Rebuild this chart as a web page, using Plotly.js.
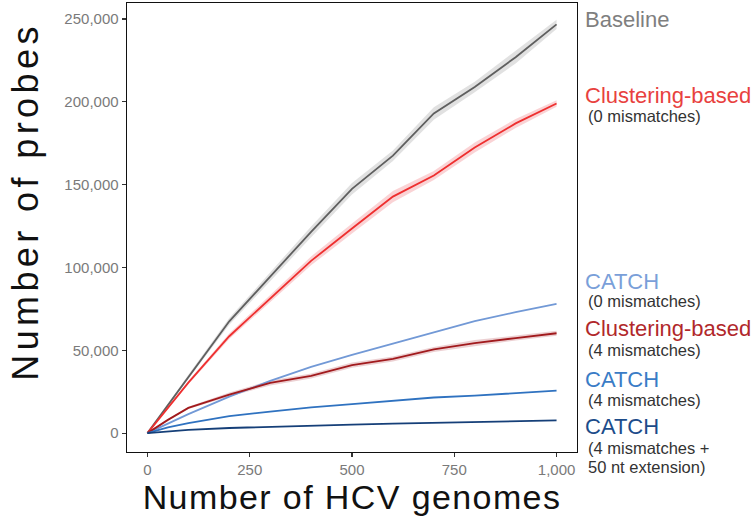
<!DOCTYPE html>
<html>
<head>
<meta charset="utf-8">
<script src="https://cdn.plot.ly/plotly-3.0.1.min.js"></script>
<style>
html,body{margin:0;padding:0;background:#fff;}
#chart{width:753px;height:518px;}
#chart .ytitle{letter-spacing:4.4px;}
#chart .xtitle{letter-spacing:1.4px;}
</style>
</head>
<body>
<div id="chart"></div>
<script>
// Number of HCV genomes
const genomes = [0, 50, 100, 200, 300, 400, 500, 600, 700, 800, 900, 1000];

// Number of probes (mean) per approach
const baseline      = [0, 17000, 34000, 67500, 94500, 121500, 147500, 167500, 193000, 209000, 227000, 246800];
const cluster0      = [0, 15500, 30500, 58500, 81000, 104000, 123500, 142800, 155500, 172400, 187000, 199000];
const catch0        = [0, 6000, 11500, 22000, 31500, 40000, 47300, 54000, 61000, 67600, 73000, 78000];
const cluster4      = [0, 8000, 15200, 23300, 30300, 34500, 41000, 44800, 50500, 54400, 57400, 60300];
const catch4        = [0, 3500, 6000, 10200, 13000, 15500, 17500, 19600, 21500, 22600, 24200, 25700];
const catch4ext     = [0, 1200, 2000, 3100, 3900, 4600, 5100, 5700, 6200, 6700, 7300, 7700];

// Spread of the shaded band around the mean
const baselineSpread = [0, 700, 1200, 2000, 2800, 3200, 3500, 3200, 3800, 3200, 3800, 2800];
const cluster0Spread = [0, 600, 1000, 1600, 2200, 2700, 3000, 3400, 2700, 3000, 2700, 2000];
const cluster4Spread = [0, 400, 700, 1200, 1500, 1500, 1600, 1500, 1500, 1800, 1500, 1500];

const series = [
  {y: baseline,  spread: baselineSpread, color: '#5f5f5f', band: 'rgba(200,200,200,0.55)'},
  {y: cluster0,  spread: cluster0Spread, color: '#ee2f2f', band: 'rgba(240,130,135,0.35)'},
  {y: catch0,    spread: null,           color: '#7299d6', band: null},
  {y: cluster4,  spread: cluster4Spread, color: '#a11a1d', band: 'rgba(200,120,125,0.35)'},
  {y: catch4,    spread: null,           color: '#2f72c0', band: null},
  {y: catch4ext, spread: null,           color: '#153f78', band: null}
];

const traces = [];
series.forEach(s => {
  if (s.spread) {
    traces.push({x: genomes, y: s.y.map((v,i)=>v - s.spread[i]), mode:'lines',
      line:{width:0, color:s.band}, hoverinfo:'skip', showlegend:false});
    traces.push({x: genomes, y: s.y.map((v,i)=>v + s.spread[i]), mode:'lines',
      line:{width:0, color:s.band}, fill:'tonexty', fillcolor:s.band, hoverinfo:'skip', showlegend:false});
  }
});
series.forEach(s => {
  traces.push({x: genomes, y: s.y, mode:'lines', line:{color:s.color, width:1.8}, showlegend:false});
});

// Right-hand labels
const labelText  = ['Baseline', 'Clustering-based', '(0 mismatches)', 'CATCH', '(0 mismatches)',
                    'Clustering-based', '(4 mismatches)', 'CATCH', '(4 mismatches)', 'CATCH',
                    '(4 mismatches +', '50 nt extension)'];
const labelColor = ['#7f7f7f', '#e8413e', '#333333', '#7a9fd9', '#333333',
                    '#b1282b', '#333333', '#3a7cc6', '#333333', '#1c4c8a', '#333333', '#333333'];
const labelPx    = [20, 95, 116, 281, 301, 328, 350, 379, 400, 426, 448, 467];
const labelMain  = [true, true, false, true, false, true, false, true, false, true, false, false];

const plotTop = 3, plotBottom = 452;
const annotations = labelText.map((t,i)=>({
  text: t, xref:'paper', yref:'paper', x:1, xanchor:'left',
  y: (plotBottom - labelPx[i])/(plotBottom - plotTop), yanchor:'middle',
  xshift: labelMain[i] ? 6 : 9, showarrow:false,
  font:{family:'Liberation Sans, Arial, sans-serif', size: labelMain[i] ? 22 : 16.5, color: labelColor[i]}
}));

const layout = {
  width: 753, height: 518,
  margin: {l:127, r:176, t:3, b:66},
  paper_bgcolor:'#fff', plot_bgcolor:'#fff',
  showlegend:false,
  font:{family:'Liberation Sans, Arial, sans-serif'},
  xaxis:{
    range:[-50,1050], tickvals:[0,250,500,750,1000], tickformat:',d',
    showgrid:false, zeroline:false, showline:true, mirror:true, linecolor:'#111', linewidth:1.4,
    ticks:'outside', ticklen:4, tickcolor:'#333', tickwidth:1.2,
    tickfont:{size:15, color:'#7a7a7a'},
    title:{text:'Number of HCV genomes', font:{size:34, color:'#111'}, standoff:3}
  },
  yaxis:{
    range:[-11400, 259700], tickvals:[0,50000,100000,150000,200000,250000], tickformat:',d',
    showgrid:false, zeroline:false, showline:true, mirror:true, linecolor:'#111', linewidth:1.4,
    ticks:'outside', ticklen:4, tickcolor:'#333', tickwidth:1.2,
    tickfont:{size:15, color:'#7a7a7a'},
    title:{text:'Number of probes', font:{size:36, color:'#111'}, standoff:14}
  },
  annotations: annotations
};

Plotly.newPlot('chart', traces, layout, {displayModeBar:false, staticPlot:true}).then(gd => {
  // The reference's y title sits a little above the panel centre
  const t = gd.querySelector('.ytitle');
  if (t) t.setAttribute('transform', 'translate(0,-26) ' + (t.getAttribute('transform') || ''));
});
</script>
</body>
</html>
